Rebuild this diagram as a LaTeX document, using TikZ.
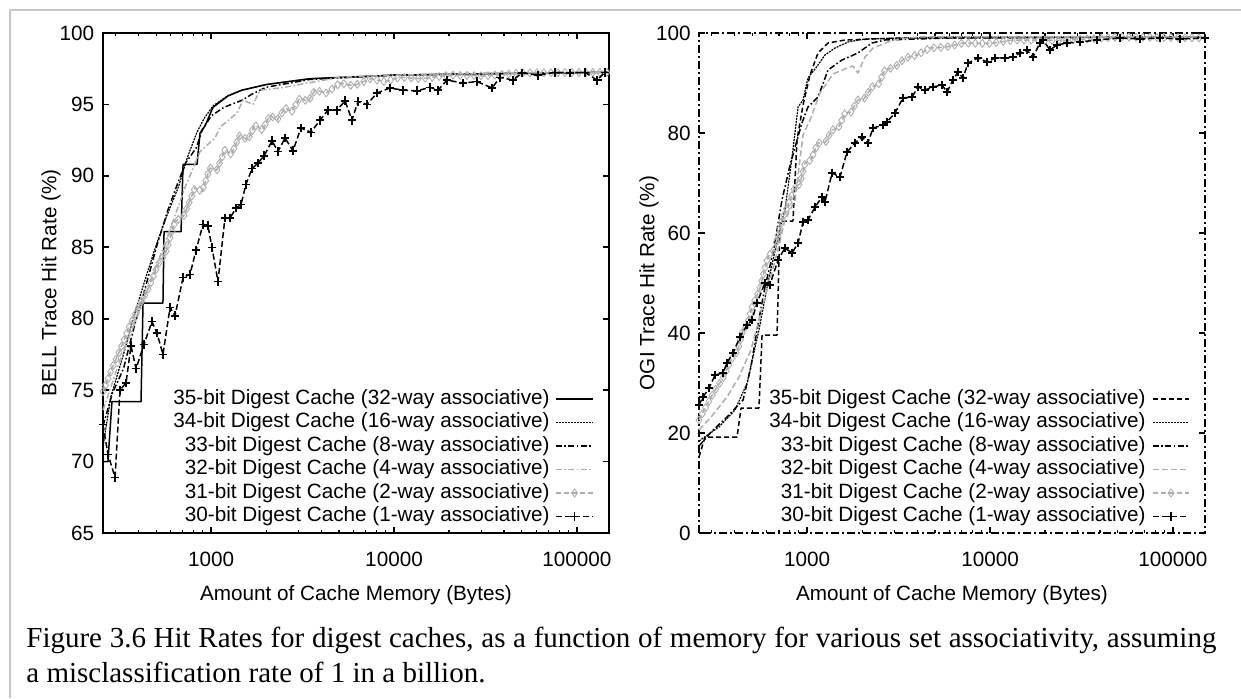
\documentclass[tikz,border=0pt]{standalone}
\usepackage{fontspec}
\setmainfont{Liberation Serif}
\setsansfont{Liberation Sans}
\usetikzlibrary{decorations.markings}

\definecolor{framegray}{gray}{0.78}
\definecolor{curvegray}{gray}{0.68}

\tikzset{
  ticklab/.style={font=\sffamily\fontsize{10.35}{12}\selectfont, inner sep=0pt},
  axisbox/.style={line width=0.8pt},
  curve/.style={line width=0.75pt, line join=round},
  c35/.style={curve},
  c34/.style={curve, line width=0.6pt, dash pattern=on 1pt off 0.5pt},
  c33/.style={curve, dash pattern=on 3pt off 1.2pt on 0.8pt off 1.2pt},
  c32/.style={curve, curvegray, dash pattern=on 3pt off 1.2pt on 0.8pt off 1.2pt},
  c31/.style={curve, curvegray, dash pattern=on 2.5pt off 1.5pt},
  c30/.style={curve, dash pattern=on 3pt off 1.5pt},
  cdash/.style={curve, dash pattern=on 2.5pt off 1.5pt},
  dmarks/.style={postaction={decorate, decoration={markings,
      mark=between positions 0 and 1 step #1 with {\pgftransformresetnontranslations
        \draw[curvegray, solid, line width=0.45pt] (0,-2pt) -- (1.5pt,0) -- (0,2pt) -- (-1.5pt,0) -- cycle;}}}},
  pmarks/.style={mark=+, mark size=2.2pt, mark options={solid, line width=0.7pt}},
}

\begin{document}
\begin{tikzpicture}[x=1pt, y=1pt]
\useasboundingbox (0,0) rectangle (620.5,349);
\draw[framegray, line width=1pt] (5,0) -- (5,344) -- (620.5,344);

% BELL trace
\begin{scope}[x=91.4pt, y=7.142857pt, shift={(51.5pt,82.5pt)}, shift={(-2.408,-65)}]
\draw[axisbox] (2.408,65) rectangle (5.176,100);
\foreach \v in {65,70,...,100}
{
    \draw[axisbox] (2.408,\v) -- ++(3pt,0) (5.176,\v) -- ++(-3pt,0);
    \node[ticklab, anchor=east, xshift=-4.25pt] (bl\v) at (2.408,\v) {\v};
}
\foreach \d/\xtext in {3/1000,4/10000,5/100000}
{
    \draw[axisbox] (\d,65) -- ++(0,3pt) (\d,100) -- ++(0,-3pt);
    \node[ticklab, yshift=-13pt] (bx\d) at (\d,65) {\xtext};
}
\foreach \d in {2,3,4} \foreach \m in {2,...,9}
{
    \pgfmathsetmacro\L{\d+log10(\m)}
    \ifdim\L pt>2.41pt
        \draw[line width=0.6pt] (\L,65) -- ++(0,1.6pt) (\L,100) -- ++(0,-1.6pt);
    \fi
}
\draw[c35] plot coordinates {(2.408,70) (2.435,70) (2.457,74.2) (2.616,74.2) (2.627,81.1) (2.736,81.1) (2.742,86.1) (2.835,86.1) (2.846,90.8) (2.922,90.8) (2.939,93.0) (2.966,93.5) (3.010,94.8) (3.092,95.6) (3.168,96.0) (3.305,96.4) (3.540,96.8) (4.005,97.05) (4.5,97.15) (5.176,97.25)};
\draw[c34] plot coordinates {(2.408,71) (2.45,74.5) (2.52,77.5) (2.58,80.3) (2.64,82.8) (2.70,85.2) (2.76,87.3) (2.82,89.2) (2.87,91.3) (2.92,93.0) (2.96,94.0) (3.01,94.9) (3.09,95.6) (3.17,96.0) (3.30,96.4) (3.54,96.8) (4.0,97.05) (4.5,97.15) (5.176,97.25)};
\draw[c33] plot coordinates {(2.408,72.5) (2.46,74.8) (2.52,76.5) (2.58,79.5) (2.64,82.2) (2.70,85.0) (2.76,87.5) (2.82,89.6) (2.86,90.9) (2.92,92.0) (2.95,93.2) (3.00,94.2) (3.07,94.8) (3.17,95.3) (3.22,95.7) (3.30,96.2) (3.54,96.75) (4.0,97.05) (4.5,97.15) (5.176,97.25)};
\draw[c32] plot coordinates {(2.408,73.6) (2.501,77.1) (2.610,80.6) (2.709,84.0) (2.785,86.6) (2.857,89.2) (2.939,91.7) (3.021,92.65) (3.048,93.4) (3.141,94.4) (3.174,95.3) (3.229,95.0) (3.267,96.0) (3.376,96.15) (3.486,96.4) (3.705,96.9) (4.033,97.06) (4.580,97.2) (5.176,97.27)};
\draw[c31, dmarks=3.5pt] plot coordinates {(2.408,74.9) (2.46,76.6) (2.501,77.8) (2.55,79.4) (2.610,81.0) (2.66,82.2) (2.709,83.8) (2.75,84.6) (2.802,86.8) (2.85,87.2) (2.911,89.15) (2.95,88.9) (2.993,90.55) (3.03,90.4) (3.075,91.8) (3.11,91.5) (3.157,92.85) (3.20,92.5) (3.239,93.55) (3.28,93.2) (3.322,94.25) (3.36,93.9) (3.404,94.75) (3.44,94.5) (3.486,95.45) (3.53,95.2) (3.568,96.0) (3.63,95.8) (3.705,96.5) (3.78,96.3) (3.869,96.8) (3.95,96.6) (4.033,96.9) (4.15,96.8) (4.306,97.05) (4.5,97.0) (4.689,97.2) (5.176,97.25)};
\draw[c30] plot[pmarks] coordinates {(2.408,72.6) (2.435,70.5) (2.474,68.9) (2.501,75.0) (2.534,75.5) (2.561,78.1) (2.589,76.5) (2.632,78.2) (2.676,79.8) (2.703,79.0) (2.736,77.5) (2.775,80.8) (2.802,80.2) (2.846,82.9) (2.884,83.1) (2.917,84.8) (2.955,86.6) (2.982,86.5) (3.004,85.0) (3.037,82.6) (3.075,87.05) (3.103,87.05) (3.136,87.75) (3.163,88.0) (3.190,89.4) (3.223,90.5) (3.256,90.9) (3.289,91.4) (3.333,92.45) (3.365,91.7) (3.404,92.65) (3.447,91.75) (3.491,93.35) (3.546,93.05) (3.595,93.9) (3.639,94.6) (3.688,94.6) (3.732,95.25) (3.770,93.9) (3.803,95.2) (3.852,95.0) (3.907,95.8) (3.978,96.15) (4.049,96.0) (4.126,95.95) (4.197,96.2) (4.241,96.0) (4.290,96.7) (4.377,96.5) (4.454,96.6) (4.536,96.15) (4.580,96.9) (4.651,96.7) (4.700,97.2) (4.788,97.05) (4.881,97.25) (4.963,97.2) (5.045,97.25) (5.111,96.7) (5.154,97.25)};
\end{scope}

% OGI trace
\begin{scope}[x=91.4pt, y=2.5pt, shift={(349.5pt,82.5pt)}, shift={(-2.408,0)}]
\draw[axisbox, dash pattern=on 4pt off 1.5pt on 1pt off 1.5pt] (2.408,0) rectangle (5.176,100);
\foreach \v in {0,20,...,100}
{
    \draw[axisbox] (2.408,\v) -- ++(3pt,0) (5.176,\v) -- ++(-3pt,0);
    \node[ticklab, anchor=east, xshift=-4pt] (ol\v) at (2.408,\v) {\v};
}
\foreach \d/\xtext in {3/1000,4/10000,5/100000}
{
    \draw[axisbox] (\d,0) -- ++(0,3pt) (\d,100) -- ++(0,-3pt);
    \node[ticklab, yshift=-13pt] (ox\d) at (\d,0) {\xtext};
}
\foreach \d in {2,3,4} \foreach \m in {2,...,9}
{
    \pgfmathsetmacro\L{\d+log10(\m)}
    \ifdim\L pt>2.41pt
        \draw[line width=0.6pt] (\L,0) -- ++(0,1.6pt) (\L,100) -- ++(0,-1.6pt);
    \fi
}
\draw[cdash] plot coordinates {(2.408,15.2) (2.441,19.2) (2.616,19.2) (2.638,25.0) (2.736,25.0) (2.753,39.6) (2.835,39.6) (2.851,62.4) (2.922,62.4) (2.944,78.6) (2.977,85.6) (3.015,91.6) (3.059,96.0) (3.114,98.0) (3.207,98.6) (3.508,99.0) (5.176,99.2)};
\draw[c34] plot coordinates {(2.408,18.4) (2.517,21.2) (2.605,24.6) (2.671,30.0) (2.736,40.6) (2.785,50.0) (2.862,62.6) (2.878,64.6) (2.917,75.2) (2.950,85.2) (2.977,86.6) (3.004,91.0) (3.059,93.6) (3.097,95.6) (3.152,97.0) (3.223,98.2) (3.316,98.8) (3.776,99.2) (5.176,99.2)};
\draw[c33] plot coordinates {(2.408,17.4) (2.474,20.2) (2.561,23.2) (2.649,26.6) (2.692,33.2) (2.725,40.6) (2.769,49.2) (2.813,56.0) (2.862,66.6) (2.906,73.6) (2.971,82.0) (3.004,85.2) (3.059,87.2) (3.114,92.6) (3.190,94.6) (3.277,96.0) (3.354,98.0) (3.425,98.6) (3.776,99.0) (5.176,99.2)};
\draw[c31, dash pattern=on 3pt off 1.5pt] plot coordinates {(2.408,20.6) (2.474,23.2) (2.561,27.2) (2.627,31.2) (2.692,36.6) (2.725,41.2) (2.840,56.6) (2.878,62.6) (2.933,66.6) (2.977,79.6) (3.015,82.6) (3.070,88.0) (3.141,91.8) (3.218,93.0) (3.250,93.4) (3.277,92.0) (3.316,95.2) (3.360,97.0) (3.469,98.6) (3.601,99.2) (5.176,99.2)};
\draw[c31, dmarks=3.5pt] plot coordinates {(2.408,22.6) (2.45,25.5) (2.496,28.6) (2.54,31.0) (2.583,34.6) (2.62,36.5) (2.649,40.6) (2.67,41.5) (2.698,45.2) (2.74,48.8) (2.785,55.2) (2.82,56.8) (2.862,62.6) (2.895,65.6) (2.933,69.2) (2.96,69.8) (2.988,74.0) (3.02,74.6) (3.059,78.0) (3.10,78.2) (3.136,80.6) (3.17,81.0) (3.207,84.0) (3.24,84.2) (3.277,86.6) (3.31,86.8) (3.354,89.2) (3.39,89.8) (3.425,92.6) (3.48,93.2) (3.535,95.0) (3.60,95.6) (3.672,97.0) (3.76,97.2) (3.852,98.0) (4.0,97.9) (4.126,98.6) (4.4,98.5) (4.711,99.2) (5.176,99.0)};
\draw[c30] plot[pmarks] coordinates {(2.408,25.6) (2.430,27.2) (2.463,29.0) (2.496,31.6) (2.539,32.0) (2.561,34.0) (2.594,36.0) (2.632,39.2) (2.671,41.6) (2.698,42.6) (2.725,46.0) (2.769,50.0) (2.796,49.6) (2.840,54.6) (2.878,57.0) (2.917,56.0) (2.950,58.0) (2.977,62.2) (3.004,62.6) (3.043,65.2) (3.081,67.2) (3.097,66.2) (3.136,72.0) (3.179,71.2) (3.218,76.2) (3.261,78.0) (3.300,79.2) (3.332,78.0) (3.360,81.0) (3.414,81.6) (3.436,82.2) (3.480,84.0) (3.524,87.0) (3.573,87.2) (3.606,89.2) (3.644,88.6) (3.688,89.2) (3.737,89.6) (3.765,88.2) (3.797,90.6) (3.825,92.2) (3.852,91.0) (3.880,94.0) (3.934,95.0) (3.984,94.2) (4.027,95.0) (4.082,95.0) (4.126,95.2) (4.164,96.0) (4.202,96.6) (4.235,95.2) (4.273,98.0) (4.290,98.6) (4.328,96.6) (4.366,97.6) (4.421,98.0) (4.492,98.2) (4.585,98.6) (4.711,99.0) (4.820,98.8) (4.930,99.0) (5.039,98.8) (5.176,99.0)};
\end{scope}

% axis titles
\node[ticklab] (xtitleL) at (178,51.5) {Amount of Cache Memory (Bytes)};
\node[ticklab] (xtitleR) at (476,51.5) {Amount of Cache Memory (Bytes)};
\node[ticklab, rotate=90] (ytitleL) at (25.5,207.5) {BELL Trace Hit Rate (\%)};
\node[ticklab, rotate=90] (ytitleR) at (324.5,207.5) {OGI Trace Hit Rate (\%)};

% legend, BELL
\node[ticklab, anchor=east] (lg35) at (275,149.5) {35-bit Digest Cache (32-way associative)};
\node[ticklab, anchor=east] (lg34) at (275,137.75) {34-bit Digest Cache (16-way associative)};
\node[ticklab, anchor=east] (lg33) at (275,126) {33-bit Digest Cache (8-way associative)};
\node[ticklab, anchor=east] (lg32) at (275,114.25) {32-bit Digest Cache (4-way associative)};
\node[ticklab, anchor=east] (lg31) at (275,102.5) {31-bit Digest Cache (2-way associative)};
\node[ticklab, anchor=east] (lg30) at (275,90.75) {30-bit Digest Cache (1-way associative)};
\draw[c35] ([xshift=3pt]lg35.east) -- ++(18.5pt,0);
\draw[c34] ([xshift=3pt]lg34.east) -- ++(18.5pt,0);
\draw[c33] ([xshift=3pt]lg33.east) -- ++(18.5pt,0);
\draw[c32] ([xshift=3pt]lg32.east) -- ++(18.5pt,0);
\draw[c31] ([xshift=3pt]lg31.east) -- coordinate (mk31) ++(18.5pt,0);
\draw[c30] ([xshift=3pt]lg30.east) -- coordinate (mk30) ++(18.5pt,0);
\draw[curvegray, line width=0.45pt] (mk31) +(0,-2pt) -- +(1.5pt,0) -- +(0,2pt) -- +(-1.5pt,0) -- cycle;
\draw[line width=0.7pt] (mk30) +(-2.2pt,0) -- +(2.2pt,0) +(0,-2.2pt) -- +(0,2.2pt);

% legend, OGI
\node[ticklab, anchor=east] (rg35) at (573,149.5) {35-bit Digest Cache (32-way associative)};
\node[ticklab, anchor=east] (rg34) at (573,137.75) {34-bit Digest Cache (16-way associative)};
\node[ticklab, anchor=east] (rg33) at (573,126) {33-bit Digest Cache (8-way associative)};
\node[ticklab, anchor=east] (rg32) at (573,114.25) {32-bit Digest Cache (4-way associative)};
\node[ticklab, anchor=east] (rg31) at (573,102.5) {31-bit Digest Cache (2-way associative)};
\node[ticklab, anchor=east] (rg30) at (573,90.75) {30-bit Digest Cache (1-way associative)};
\draw[cdash] ([xshift=3.5pt]rg35.east) -- ++(18pt,0);
\draw[c34] ([xshift=3.5pt]rg34.east) -- ++(18pt,0);
\draw[c33] ([xshift=3.5pt]rg33.east) -- ++(18pt,0);
\draw[c31, dash pattern=on 3pt off 1.5pt] ([xshift=3.5pt]rg32.east) -- ++(18pt,0);
\draw[c31] ([xshift=3.5pt]rg31.east) -- coordinate (nk31) ++(18pt,0);
\draw[c30] ([xshift=3.5pt]rg30.east) -- coordinate (nk30) ++(18pt,0);
\draw[curvegray, line width=0.45pt] (nk31) +(0,-2pt) -- +(1.5pt,0) -- +(0,2pt) -- +(-1.5pt,0) -- cycle;
\draw[line width=0.7pt] (nk30) +(-2.2pt,0) -- +(2.2pt,0) +(0,-2.2pt) -- +(0,2.2pt);

% caption
\node[anchor=north west, inner sep=0pt, text width=595pt, align=justify,
      font=\fontsize{14.5}{17.5}\selectfont] (caption) at (13,35.5)
  {\noindent Figure 3.6 Hit Rates for digest caches, as a function of memory for various set associativity, assuming\linebreak a misclassification rate of 1 in a billion.};
\end{tikzpicture}
\end{document}
